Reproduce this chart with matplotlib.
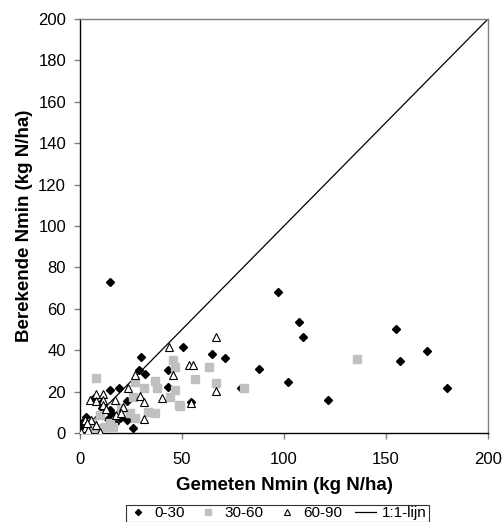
import numpy as np
import matplotlib
matplotlib.use("Agg")
import matplotlib.pyplot as plt

plt.rcParams['font.family'] = ['Liberation Sans', 'DejaVu Sans']

# 0-30 cm layer (black diamonds)
x_030 = [14.7, 97, 107.5, 109.4, 155, 170, 157, 180, 121.7, 50.5, 64.5, 71, 88, 102, 79,
         30, 29, 32, 43, 43, 14.7, 19.1, 7, 23, 10.3, 14.7, 15.2, 19.6, 13.7, 23, 26,
         2.9, 1, 5.4, 0.8, 10.7, 17, 54.5]
y_030 = [73, 68, 53.6, 46.4, 50.2, 39.6, 34.8, 21.7, 15.9, 41.5, 38.2, 36.4, 30.9, 24.7, 21.8,
         36.7, 30.4, 28.5, 30.4, 22.3, 20.8, 21.7, 16.9, 15.5, 14.5, 11.1, 9.7, 7.2, 6.8, 6.3, 2.4,
         7.7, 4.8, 2.9, 3.4, 12, 5, 15]

# 30-60 cm layer (grey squares)
x_3060 = [135.9, 80.5, 63.2, 56.4, 66.6, 49, 7.7, 45.4, 46.6, 36.8, 37.6, 31.4, 46.6, 44.1,
          48.5, 33.5, 36.8, 27, 27, 26, 24.5, 12.3, 14.7, 3.9, 8.8, 9.8, 16, 20, 6]
y_3060 = [35.7, 21.8, 31.9, 26.1, 24.2, 13, 26.6, 35.3, 32, 25.1, 21.7, 21.7, 20.8, 17.4,
          13.5, 10.1, 9.7, 7.2, 24.6, 17.4, 9.7, 2.9, 4.8, 2.4, 2.4, 8.7, 3, 12, 5]

# 60-90 cm layer (open triangles)
x_6090 = [66.6, 53.5, 55.5, 66.6, 54.4, 43.6, 45.4, 27, 23.6, 29.4, 40.2, 31.4, 31.4, 21.1,
          4.9, 7.8, 11.3, 7.8, 11.3, 17.2, 11.3, 12.7, 17.6, 20.1, 2.5, 5.4, 7.8, 2.5, 0.5,
          9.8, 4, 3.3]
y_6090 = [46.4, 32.9, 32.9, 20.3, 14.5, 41.5, 28, 28, 21.7, 17.9, 17, 15, 6.8, 12.6,
          16, 18.8, 18.8, 15.5, 16, 16, 13.5, 11.6, 8.7, 9.7, 6.3, 6.3, 3.9, 2.4, 0.5,
          0.5, 1.4, 4.8]

line_xy = [0, 200]

fig = plt.figure(figsize=(5.03, 5.22), dpi=100)
ax = fig.add_axes([0.159, 0.1705, 0.811, 0.793])

ax.plot(x_030, y_030, linestyle='none', marker='D', markersize=4.4, color='black',
        label='0-30', zorder=3)
ax.plot(x_3060, y_3060, linestyle='none', marker='s', markersize=5.2, color='#c0c0c0',
        label='30-60', zorder=3)
ax.plot(x_6090, y_6090, linestyle='none', marker='^', markersize=6, markerfacecolor='white',
        markeredgecolor='black', markeredgewidth=0.8, label='60-90', zorder=3)
ax.plot(line_xy, line_xy, color='black', linewidth=0.9, label='1:1-lijn', zorder=2)

ax.set_xlim(0, 200)
ax.set_ylim(0, 200)
ax.set_xticks(np.arange(0, 201, 50))
ax.set_yticks(np.arange(0, 201, 20))
ax.tick_params(direction='out', length=4.5, width=1, color='#808080', labelsize=12)
ax.tick_params(axis='x', pad=9)
ax.tick_params(axis='y', pad=5.5)
for s in ax.spines.values():
    s.set_linewidth(1)
ax.spines['top'].set_color('#808080')
ax.spines['right'].set_color('#808080')

ax.set_xlabel('Gemeten Nmin (kg N/ha)', fontsize=13.5, fontweight='bold', labelpad=7.5)
ax.set_ylabel('Berekende Nmin (kg N/ha)', fontsize=13.5, fontweight='bold', labelpad=4)

leg = fig.legend(loc='upper center', bbox_to_anchor=(0.551, 0.033), ncol=4, fontsize=11,
                 frameon=True, fancybox=False, edgecolor='black', handlelength=1.4,
                 handletextpad=0.4, columnspacing=0.8, borderpad=0.1, borderaxespad=0,
                 markerscale=0.7)
leg.get_frame().set_linewidth(0.8)

fig.savefig('out.png', dpi=100)
